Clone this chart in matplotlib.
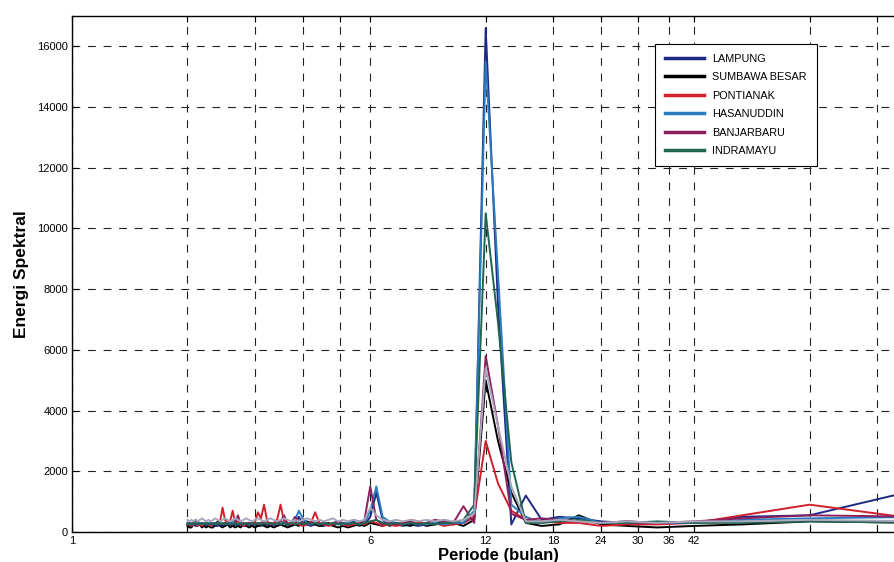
import numpy as np
import matplotlib.pyplot as plt
from matplotlib.ticker import FixedLocator, FixedFormatter, NullLocator

plt.rcParams["font.family"] = ["Liberation Sans", "DejaVu Sans"]

# periodogram of 168 monthly values: period = 168 / k, k = 1..84
N_MONTHS = 168
harmonics = np.arange(1, 85)
periode = N_MONTHS / harmonics

# spectral energy per station, ordered k = 1 .. 84 (longest period first)
lampung = [
    1450, 550, 500, 300, 300, 300, 350, 450, 500, 400,
    1200, 250, 7500, 16600, 500, 300, 250, 300, 250, 250,
    200, 250, 200, 250, 200, 400, 1300, 500, 250, 200,
    350, 200, 250, 300, 200, 250, 200, 200, 250, 200,
    250, 300, 500, 250, 200, 250, 200, 250, 200, 250,
    200, 200, 250, 200, 200, 250, 200, 250, 200, 200,
    250, 200, 250, 200, 200, 250, 200, 200, 250, 200,
    200, 250, 200, 200, 250, 200, 200, 250, 200, 200,
    250, 200, 200, 250,
]
sumbawa_besar = [
    300, 350, 250, 200, 150, 200, 250, 550, 250, 200,
    300, 1300, 3000, 5000, 400, 200, 300, 400, 250, 200,
    300, 200, 250, 300, 300, 200, 250, 300, 200, 250,
    200, 150, 200, 150, 200, 300, 250, 200, 250, 300,
    350, 300, 200, 250, 200, 150, 200, 250, 200, 150,
    200, 150, 200, 250, 200, 150, 200, 150, 200, 250,
    150, 200, 150, 200, 150, 250, 200, 150, 200, 350,
    250, 150, 150, 200, 150, 200, 150, 250, 350, 400,
    250, 150, 150, 200,
]
pontianak = [
    400, 900, 550, 300, 250, 250, 200, 300, 300, 350,
    400, 700, 1600, 3000, 500, 300, 250, 200, 300, 250,
    350, 400, 250, 200, 250, 200, 300, 350, 250, 300,
    250, 200, 250, 300, 250, 200, 250, 300, 650, 300,
    250, 200, 250, 300, 250, 300, 350, 900, 400, 300,
    250, 350, 900, 450, 650, 300, 250, 300, 250, 200,
    300, 350, 300, 700, 350, 300, 400, 800, 350, 250,
    300, 250, 200, 250, 300, 250, 200, 250, 200, 300,
    250, 200, 250, 300,
]
hasanuddin = [
    500, 450, 400, 300, 300, 350, 300, 500, 450, 300,
    500, 900, 8500, 15500, 700, 300, 300, 250, 300, 250,
    250, 300, 250, 300, 350, 500, 1500, 700, 300, 350,
    400, 300, 250, 300, 300, 250, 300, 250, 300, 250,
    300, 450, 700, 400, 300, 250, 300, 350, 300, 250,
    300, 250, 300, 250, 300, 250, 300, 250, 300, 250,
    300, 250, 300, 350, 250, 300, 250, 300, 250, 300,
    250, 300, 250, 300, 250, 300, 250, 300, 250, 300,
    250, 300, 250, 300,
]
banjarbaru = [
    500, 550, 450, 350, 300, 350, 300, 350, 400, 450,
    400, 600, 3500, 5800, 300, 850, 300, 350, 400, 300,
    250, 350, 300, 250, 300, 250, 400, 1500, 400, 250,
    300, 250, 300, 350, 300, 250, 300, 250, 350, 300,
    250, 300, 350, 500, 300, 250, 550, 350, 300, 250,
    300, 250, 350, 300, 250, 300, 250, 300, 250, 300,
    250, 550, 300, 250, 300, 250, 300, 250, 300, 250,
    300, 250, 300, 250, 300, 250, 300, 250, 300, 250,
    300, 250, 300, 250,
]
indramayu = [
    300, 350, 300, 300, 350, 300, 300, 400, 350, 300,
    300, 2300, 6900, 10500, 900, 400, 300, 300, 250, 300,
    250, 300, 250, 300, 250, 300, 400, 350, 300, 250,
    300, 250, 300, 250, 300, 250, 300, 250, 300, 250,
    300, 250, 300, 250, 300, 250, 300, 250, 300, 250,
    300, 250, 300, 250, 300, 250, 300, 250, 300, 250,
    300, 250, 300, 250, 300, 250, 300, 250, 300, 250,
    300, 250, 300, 250, 300, 250, 300, 250, 300, 250,
    300, 250, 300, 250,
]
# extra light grey trace in the figure (not listed in the legend)
grey_trace = [
    350, 400, 350, 350, 300, 350, 300, 350, 400, 350,
    350, 1500, 3500, 5400, 600, 400, 350, 400, 350, 400,
    350, 400, 350, 400, 350, 400, 550, 800, 400, 350,
    400, 350, 400, 350, 450, 400, 350, 400, 350, 400,
    450, 400, 350, 400, 350, 400, 450, 400, 350, 400,
    450, 400, 350, 400, 450, 400, 350, 400, 450, 400,
    350, 400, 450, 400, 350, 400, 450, 400, 350, 400,
    450, 400, 350, 400, 350, 400, 450, 400, 350, 400,
    350, 400, 350, 400,
]

stations = ["LAMPUNG", "SUMBAWA BESAR", "PONTIANAK", "HASANUDDIN", "BANJARBARU", "INDRAMAYU"]
series = [lampung, sumbawa_besar, pontianak, hasanuddin, banjarbaru, indramayu]
colors = ["#1c2a86", "#000000", "#d0202c", "#2a7cbe", "#8c1f5e", "#1f6652"]

xtick_vals = [1, 2, 3, 4, 5, 6, 12, 18, 24, 30, 36, 42, 84, 126]
xtick_labels = ["1", "", "", "", "", "6", "12", "18", "24", "30", "36", "42", "", ""]
ytick_vals = [0, 2000, 4000, 6000, 8000, 10000, 12000, 14000, 16000]

fig = plt.figure(figsize=(8.95, 5.62), dpi=100)
# axes run a little past the right edge, as in the scanned figure
ax = fig.add_axes([72 / 895, 30 / 562, 853 / 895, 516 / 562])

for name, vals, c in zip(stations, series, colors):
    ax.plot(periode, vals, color=c, lw=1.4, label=name)
ax.plot(periode, grey_trace, color="#aba7bd", lw=1.4, label="_nolegend_")

ax.set_xscale("log")
ax.set_xlim(1, 168)
ax.set_ylim(0, 17000)

ax.xaxis.set_major_locator(FixedLocator(xtick_vals))
ax.xaxis.set_major_formatter(FixedFormatter(xtick_labels))
ax.xaxis.set_minor_locator(NullLocator())
ax.set_yticks(ytick_vals)
ax.set_yticklabels([str(v) for v in ytick_vals])

ax.tick_params(axis="both", direction="in", length=4, width=0.8, labelsize=8,
               top=True, pad=3)
ax.grid(True, color="#222222", linestyle=(0, (7, 7)), lw=0.8)

for side in ["left", "top", "bottom"]:
    ax.spines[side].set_linewidth(1.0)
ax.spines["right"].set_visible(False)

ax.set_xlabel("Periode (bulan)", fontsize=12, fontweight="bold", labelpad=1)
ax.set_ylabel("Energi Spektral", fontsize=12.5, fontweight="bold", labelpad=6)

leg = ax.legend(loc="upper left", bbox_to_anchor=(655 / 895, 1 - 44 / 562),
                bbox_transform=fig.transFigure, borderaxespad=0, fontsize=7.8,
                handlelength=3.6, labelspacing=0.78, borderpad=0.9, fancybox=False,
                framealpha=1, edgecolor="black")
leg.get_frame().set_linewidth(0.8)
for line in leg.get_lines():
    line.set_linewidth(2.5)

plt.savefig("out.png", dpi=100)
